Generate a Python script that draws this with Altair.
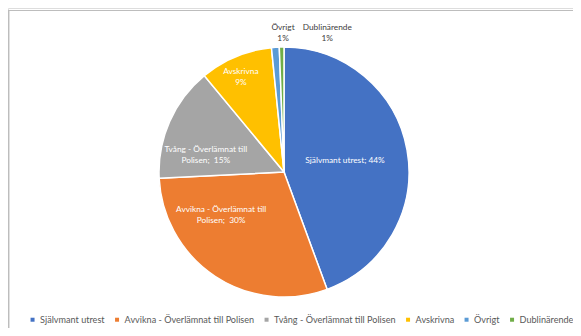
import altair as alt
import pandas as pd

# --- data ---
categories = [
    "Självmant utrest",
    "Avvikna - Överlämnat till Polisen",
    "Tvång - Överlämnat till Polisen",
    "Avskrivna",
    "Övrigt",
    "Dublinärende",
]
shares = [44.4, 29.8, 14.8, 9.4, 1.0, 0.6]  # percent
slice_labels = [
    "Självmant utrest; 44%",
    "Avvikna - Överlämnat till\nPolisen;\u00a0 30%",
    "Tvång - Överlämnat till\nPolisen;\u00a0 15%",
    "Avskrivna\n9%",
    "Övrigt\n1%",
    "Dublinärende\n1%",
]
colors = ["#4472C4", "#ED7D31", "#A5A5A5", "#FFC000", "#5B9BD5", "#70AD47"]

df = pd.DataFrame({
    "idx": list(range(len(categories))),
    "category": categories,
    "share": shares,
    "label": slice_labels,
})

W, H = 565, 320
CX, CY = 276, 164
R = 125
FONT = "Lato"

base = alt.Chart(df).transform_window(
    cum="sum(share)", sort=[{"field": "idx"}], frame=[None, 0]
).transform_calculate(
    start="datum.cum - datum.share",
    mid="datum.cum - datum.share / 2",
)

theta_scale = alt.Scale(domain=[0, 100])

pie = base.mark_arc(outerRadius=R, stroke="white", strokeWidth=1.5).encode(
    x=alt.value(CX),
    y=alt.value(CY),
    theta=alt.Theta("start:Q", scale=theta_scale, stack=None),
    theta2="cum:Q",
    color=alt.Color(
        "category:N",
        scale=alt.Scale(domain=categories, range=colors),
        legend=alt.Legend(
            title=None,
            orient="none",
            legendX=20,
            legendY=307,
            direction="horizontal",
            columns=6,
            symbolType="square",
            symbolSize=16,
            symbolStrokeWidth=0,
            labelFont=FONT,
            labelFontSize=9.1,
            labelColor="#595959",
            labelOffset=3,
            columnPadding=7.5,
        ),
    ),
    order=alt.Order("idx:Q"),
)

# per-label placement: (radius, dx, dy, colour)
placement = {
    "Självmant utrest": (62, 0, 0, "white"),
    "Avvikna - Överlämnat till Polisen": (65, -27, -16, "white"),
    "Tvång - Överlämnat till Polisen": (80, -5, 10, "white"),
    "Avskrivna": (104, -3, -4, "white"),
    "Övrigt": (144, 9, 0, "#404040"),
    "Dublinärende": (144, 46, 0, "#404040"),
}

text_layers = []
for cat, (r, dx, dy, col) in placement.items():
    text_layers.append(
        base.transform_filter(alt.datum.category == cat).mark_text(
            radius=r, dx=dx, dy=dy, font=FONT, fontSize=8.3, color=col,
            lineBreak="\n", lineHeight=11, align="center", baseline="middle",
        ).encode(
            x=alt.value(CX),
            y=alt.value(CY),
            theta=alt.Theta("mid:Q", scale=theta_scale, stack=None),
            text="label:N",
        )
    )

frame_top = alt.Chart(df).mark_rule(color="#bdbdbd", strokeWidth=1.2).encode(
    x=alt.value(0), x2=alt.value(W), y=alt.value(2.5)
)
frame_left = alt.Chart(df).mark_rule(color="#bdbdbd", strokeWidth=1.2).encode(
    x=alt.value(0.5), y=alt.value(2), y2=alt.value(H)
)

chart = alt.layer(frame_top, frame_left, pie, *text_layers).properties(
    width=W, height=H, padding=0,
    autosize=alt.AutoSizeParams(type="none"),
).resolve_scale(theta="shared").configure_view(stroke=None).configure(background="white")

chart.save("out.html", embed_options={"renderer": "svg", "actions": False})
